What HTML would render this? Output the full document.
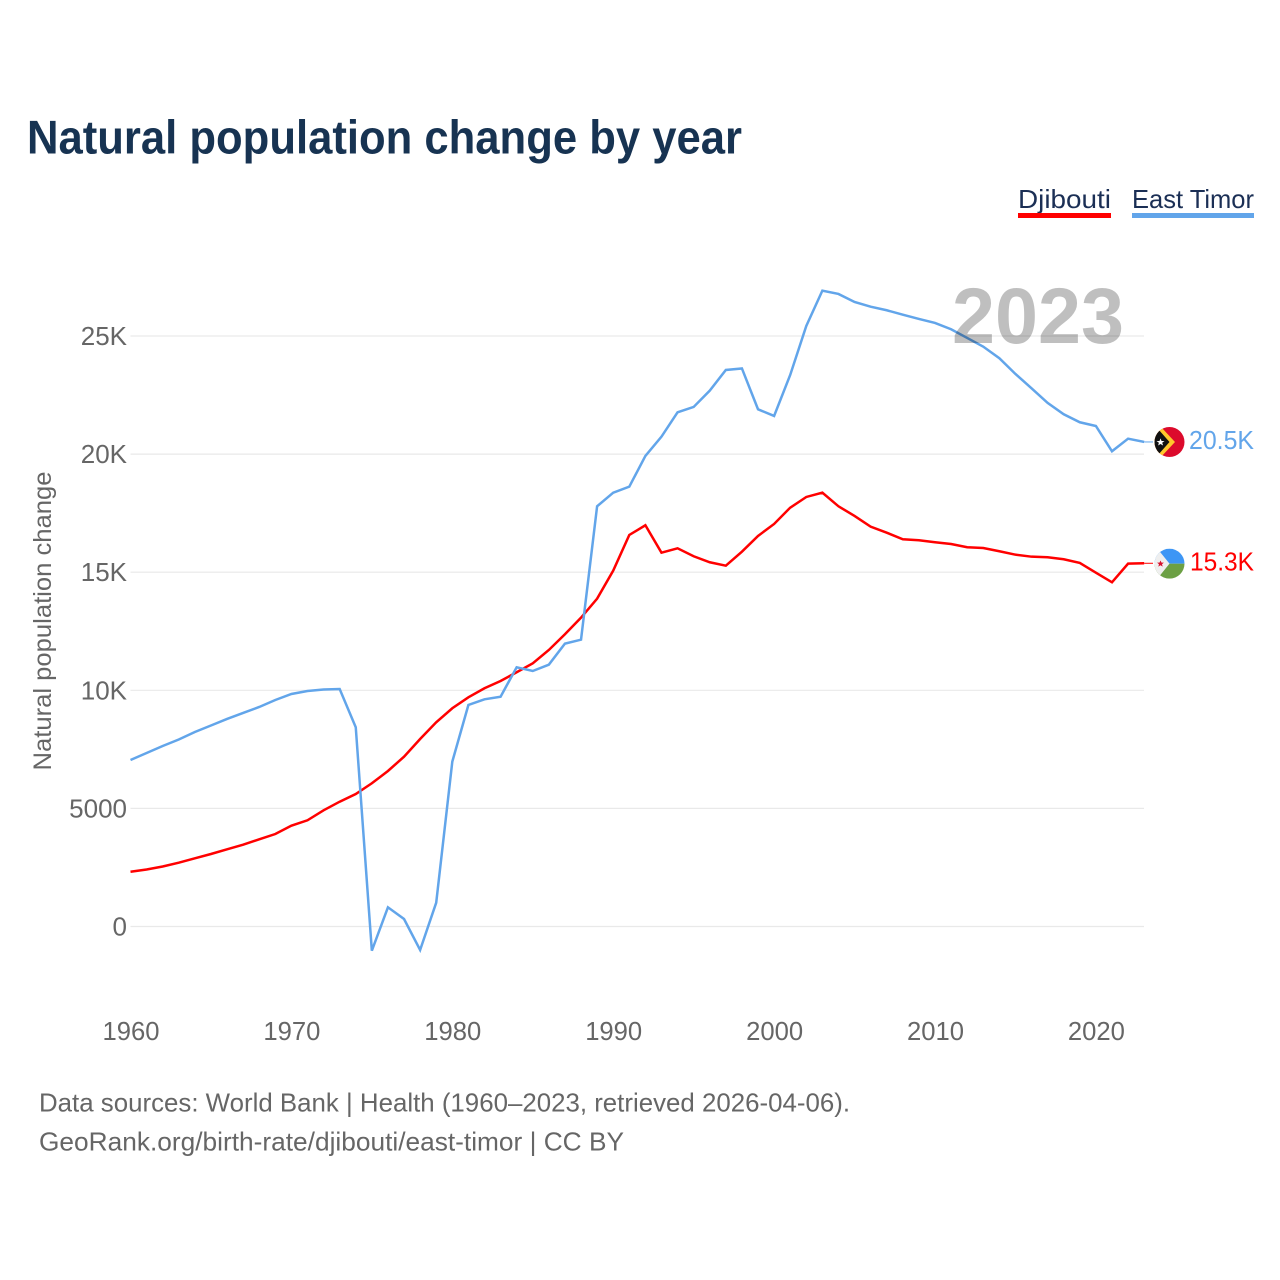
<!DOCTYPE html>
<html lang="en">
<head>
<meta charset="utf-8">
<title>Natural population change by year</title>
<style>
html,body{margin:0;padding:0;background:#fff;width:1280px;height:1280px;overflow:hidden}
svg{display:block}
text{font-family:"Liberation Sans",sans-serif}
</style>
</head>
<body>
<svg id="chart" xmlns="http://www.w3.org/2000/svg" width="1280" height="1280" viewBox="0 0 1280 1280">
  <defs>
    <clipPath id="flag-clip-tl"><circle cx="0" cy="0" r="15"/></clipPath>
    <clipPath id="flag-clip-dj"><circle cx="0" cy="0" r="15"/></clipPath>
  </defs>
  <rect x="0" y="0" width="1280" height="1280" fill="#ffffff"/>
  <text x="27" y="153.5" font-size="47" font-weight="700" fill="#173352" textLength="715" lengthAdjust="spacingAndGlyphs">Natural population change by year</text>

  <g>
    <text x="1018" y="208" font-size="26" fill="#1b2f55" textLength="93" lengthAdjust="spacingAndGlyphs">Djibouti</text>
    <rect x="1018" y="213" width="93" height="5" fill="#ff0000"/>
  </g>
  <g>
    <text x="1132" y="208" font-size="26" fill="#1b2f55" textLength="122" lengthAdjust="spacingAndGlyphs">East Timor</text>
    <rect x="1132" y="213" width="122" height="5" fill="#62a5ea"/>
  </g>

  <g id="grid"></g>
  <g id="y-labels"></g>
  <g id="x-labels"></g>
  <text transform="translate(51,621) rotate(-90)" text-anchor="middle" font-size="25" fill="#666666" textLength="299" lengthAdjust="spacingAndGlyphs">Natural population change</text>

  <g id="series"></g>

  <text x="952" y="343" font-size="79" font-weight="700" fill="#000000" fill-opacity="0.25" textLength="172" lengthAdjust="spacingAndGlyphs">2023</text>

  <g id="flag-east-timor">
    <g clip-path="url(#flag-clip-tl)">
      <rect x="-15" y="-15" width="30" height="30" fill="#dc0a2c"/>
      <polygon points="-15,-22 5.5,0 -15,22" fill="#ffc72c"/>
      <polygon points="-15,-17 0,0 -15,17" fill="#111111"/>
      <polygon points="-9,-3.6 -7.9,-1 -5,-1 -7.3,0.8 -6.4,3.6 -9,2 -11.4,3.6 -10.6,0.8 -13,-1 -10,-1" fill="#ffffff"/>
    </g>
  </g>
  <g id="flag-djibouti">
    <g clip-path="url(#flag-clip-dj)">
      <rect x="-15" y="-15" width="30" height="15" fill="#3d96f5"/>
      <rect x="-15" y="0" width="30" height="15" fill="#6ca044"/>
      <polygon points="-15,-18.6 0,0 -15,18.6" fill="#efefef"/>
      <polygon points="-9,-3.2 -8,-1 -5.6,-1 -7.5,0.6 -6.8,3 -9,1.6 -11.2,3 -10.5,0.6 -12.4,-1 -10,-1" fill="#d6122d"/>
    </g>
  </g>

  <text x="39" y="1111.5" font-size="26" fill="#666666" textLength="811" lengthAdjust="spacingAndGlyphs">Data sources: World Bank | Health (1960–2023, retrieved 2026-04-06).</text>
  <text x="39" y="1150.5" font-size="26" fill="#666666" textLength="585" lengthAdjust="spacingAndGlyphs">GeoRank.org/birth-rate/djibouti/east-timor | CC BY</text>
</svg>
<script>
const startYear = 1960;
const xTickYears = [1960, 1970, 1980, 1990, 2000, 2010, 2020];
const yTickValues = [0, 5000, 10000, 15000, 20000, 25000];
const yTickLabels = ["0", "5000", "10K", "15K", "20K", "25K"];
const djiboutiValues = [2320,2413,2540,2701,2888,3070,3269,3463,3692,3916,4268,4497,4920,5284,5610,6063,6584,7189,7939,8646,9239,9704,10085,10394,10763,11144,11707,12372,13075,13879,15065,16576,16987,15827,16013,15674,15420,15276,15869,16534,17042,17732,18185,18367,17791,17381,16928,16673,16394,16352,16267,16195,16055,16026,15886,15742,15657,15632,15547,15391,14980,14573,15361,15378];
const eastTimorValues = [7050,7346,7642,7918,8235,8510,8786,9040,9294,9590,9844,9971,10035,10056,8434,-1025,813,318,-995,1008,6978,9378,9620,9730,10975,10818,11085,11974,12143,17791,18367,18621,19921,20738,21771,21996,22686,23562,23626,21898,21615,23350,25425,26920,26780,26441,26242,26090,25904,25722,25552,25285,24917,24549,24058,23393,22787,22165,21687,21348,21191,20120,20653,20514];
const djiboutiLabel = "15.3K";
const eastTimorLabel = "20.5K";

const NS = "http://www.w3.org/2000/svg";
const xScale = function (year) { return 130.5 + (year - 1960) * 16.09; };
const yScale = function (value) { return 926.5 - value * 0.02362; };

function make(tag, parent, attrs) {
  const el = document.createElementNS(NS, tag);
  Object.keys(attrs).forEach(function (k) { el.setAttribute(k, attrs[k]); });
  parent.appendChild(el);
  return el;
}

const gridGroup = document.getElementById("grid");
const yLabelGroup = document.getElementById("y-labels");
const xLabelGroup = document.getElementById("x-labels");
const seriesGroup = document.getElementById("series");
const svgRoot = document.getElementById("chart");

yTickValues.forEach(function (v, i) {
  const line = make("line", gridGroup, { x1: 130.5, x2: 1144, y1: yScale(v), y2: yScale(v), stroke: "#e9e9e9", "stroke-width": 1.2 });
  
  
  const label = make("text", yLabelGroup, { x: 127, y: yScale(v) + 9, "text-anchor": "end", "font-size": 26, fill: "#666666" });
  
  
  label.textContent = yTickLabels[i];
});

xTickYears.forEach(function (yr) {
  const label = make("text", xLabelGroup, { x: xScale(yr) + 0.5, y: 1040, "text-anchor": "middle", "font-size": 26, fill: "#666666", textLength: 57, lengthAdjust: "spacingAndGlyphs" });
  
  
  label.textContent = String(yr);
});

function linePoints(values) {
  return values.map(function (v, i) {
    return xScale(startYear + i).toFixed(2) + "," + yScale(v).toFixed(2);
  }).join(" ");
}

const djiboutiLine = make("polyline", seriesGroup, { points: linePoints(djiboutiValues), fill: "none", stroke: "#ff0000", "stroke-width": 2.5, "stroke-linejoin": "miter" });



const eastTimorLine = make("polyline", seriesGroup, { points: linePoints(eastTimorValues), fill: "none", stroke: "#62a5ea", "stroke-width": 2.5, "stroke-linejoin": "miter" });



const lastYear = startYear + djiboutiValues.length - 1;
const endX = xScale(lastYear);
const djiboutiEndY = yScale(djiboutiValues[djiboutiValues.length - 1]);
const eastTimorEndY = yScale(eastTimorValues[eastTimorValues.length - 1]);

const djiboutiLeader = make("line", seriesGroup, { x1: endX, x2: 1153, y1: djiboutiEndY, y2: djiboutiEndY, stroke: "#ff0000", "stroke-width": 1 });



const eastTimorLeader = make("line", seriesGroup, { x1: endX, x2: 1153, y1: eastTimorEndY, y2: eastTimorEndY, stroke: "#62a5ea", "stroke-width": 1 });



document.getElementById("flag-east-timor").setAttribute("transform", "translate(1169.5," + eastTimorEndY + ")");
document.getElementById("flag-djibouti").setAttribute("transform", "translate(1169.5," + (djiboutiEndY + 0.4) + ")");

const eastTimorValueText = make("text", svgRoot, { x: 1254, y: eastTimorEndY + 7, "text-anchor": "end", "font-size": 26, fill: "#62a5ea", textLength: 65, lengthAdjust: "spacingAndGlyphs" });


eastTimorValueText.textContent = eastTimorLabel;

const djiboutiValueText = make("text", svgRoot, { x: 1254, y: djiboutiEndY + 7, "text-anchor": "end", "font-size": 26, fill: "#ff0000", textLength: 64, lengthAdjust: "spacingAndGlyphs" });


djiboutiValueText.textContent = djiboutiLabel;
</script>
</body>
</html>
